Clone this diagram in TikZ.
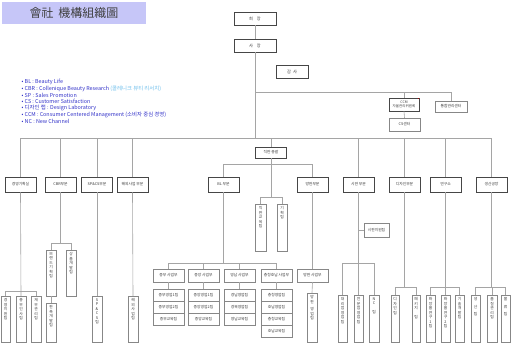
\documentclass[tikz,border=0pt]{standalone}
\usepackage{fontspec}
\setmainfont{Noto Sans CJK KR}
\definecolor{lav}{RGB}{198,198,248}
\definecolor{lineg}{RGB}{165,165,165}
\definecolor{boxg}{RGB}{135,135,135}
\definecolor{dkg}{RGB}{70,70,70}
\definecolor{txtg}{RGB}{60,60,60}
\definecolor{legblue}{RGB}{50,50,200}
\definecolor{legcyan}{RGB}{110,190,235}
\newcommand\vtx[2]{\parbox[c][#1pt][t]{8pt}{\centering\vspace*{2.5pt}#2}}
\begin{document}
\begin{tikzpicture}[x=1pt,y=-1pt,
 ln/.style={draw=lineg, line width=0.6pt},
 bx/.style={draw=boxg, line width=0.5pt, fill=white, inner sep=0pt, text=txtg, font=\fontsize{3.8}{4.5}\selectfont, align=center},
 topbox/.style={bx, draw=dkg, line width=0.8pt, minimum width=42pt, minimum height=13pt, font=\fontsize{4.2}{5}\selectfont},
 dept/.style={bx, draw=dkg, line width=0.8pt, minimum width=31pt, minimum height=15pt},
 subbox/.style={bx, minimum width=31pt, minimum height=13pt},
 stk/.style={bx, minimum width=31pt, minimum height=12pt},
 vb/.style={bx, minimum width=10pt},
 leg/.style={anchor=west, inner sep=0pt, text=legblue, font=\fontsize{5.4}{6}\selectfont},
 titlebox/.style={fill=lav, minimum width=144pt, minimum height=22pt, inner sep=0pt, text=black!75, font=\fontsize{12}{13}\selectfont}
]
\useasboundingbox (0,0) rectangle (512,343);

% title
\node[titlebox] (title) at (74,13) {會社\hspace{5pt}機構組織圖};

% legend
\node[leg] (l1) at (21.5,82) {• BL : Beauty Life};
\node[leg] (l2) at (21.5,88.5) {• CBR : Collenique Beauty Research {\color{legcyan}(콜레니크 뷰티 리서치)}};
\node[leg] (l3) at (21.5,95) {• SP : Sales Promotion};
\node[leg] (l4) at (21.5,101.5) {• CS : Customer Satisfaction};
\node[leg] (l5) at (21.5,108) {• 디자인 랩 : Design Laboratory};
\node[leg] (l6) at (21.5,114.5) {• CCM : Consumer Centered Management (소비자 중심 경영)};
\node[leg] (l7) at (21.5,121) {• NC : New Channel};

% top
\node[topbox] (hj) at (255,18.5) {회\hspace{4pt}장};
\node[topbox] (sj) at (255,45.5) {사\hspace{4pt}장};
\node[topbox, minimum width=32pt] (gs) at (292,71.5) {감\hspace{2pt}사};
\node[bx, draw=dkg, line width=0.8pt, minimum width=30pt, minimum height=13pt, font=\fontsize{3.5}{4.3}\selectfont] (ccm) at (404,104.5) {CCM\\자율관리위원회};
\fill[red!70!black] (ccm.north east) rectangle +(-1.3,1.3);
\node[bx, minimum width=31pt, minimum height=13pt] (cs) at (404.5,124.5) {CS센터};
\node[bx, minimum width=32pt, minimum height=11pt] (tg) at (451,106.5) {통합관리센터};

\coordinate (yT) at (255,92);
\coordinate (mb) at (255,138);
\draw[ln] (hj.south) -- (sj.north);
\draw[ln] (sj.south) -- (mb);
\draw[ln] (yT) -| (tg.north);
\draw[ln] (ccm.north) -- (ccm.north |- yT);
\draw[ln] (ccm.south) -- (cs.north);

% departments
\node[dept] (d1) at (20.5,184.5) {경영기획실};
\node[dept] (d2) at (60.5,184.5) {CBR부문};
\node[dept] (d3) at (97,184.5) {SP\&CS부문};
\node[dept] (d4) at (132.5,184.5) {해외사업 부문};
\node[dept, minimum height=11pt] (jp) at (271,152.5) {직판 총괄};
\node[dept] (bl) at (223.5,184.5) {BL 부문};
\node[dept] (bp) at (312.5,184.5) {방판부문};
\node[dept] (sp) at (358.5,184.5) {시판 부문};
\node[dept] (dz) at (404.5,184.5) {디자인부문};
\node[dept] (yg) at (445.5,184.5) {연구소};
\node[dept] (ss) at (491.5,184.5) {생산공장};

\draw[ln] (d1.north |- mb) -- (ss.north |- mb);
\foreach \n in {d1,d2,d3,d4,jp,sp,dz,yg,ss} \draw[ln] (\n.north) -- (\n.north |- mb);

\coordinate (yA) at (0,164);
\coordinate (yB) at (0,197);
\coordinate (yC) at (0,263);
\coordinate (yD) at (0,291);
\coordinate (yE) at (0,243);
\coordinate (yF) at (0,287);

% 직판 총괄
\draw[ln] (bl.north) |- (bp.north |- yA) -- (bp.north);
\draw[ln] (jp.south) -- (jp.south |- yB);
\node[vb, minimum width=11pt] (jc1) at (260.5,227.5) {\vtx{47}{직\\판\\교\\육\\팀}};
\node[vb] (jc2) at (282,227.5) {\vtx{47}{기\\획\\팀}};
\draw[ln] (jc1.north) |- (jc2.north |- yB) -- (jc2.north);

% BL
\node[subbox] (u1) at (168.5,275.5) {중부 사업부};
\node[subbox] (u2) at (203.5,275.5) {중앙 사업부};
\node[subbox] (u3) at (239.5,275.5) {영남 사업부};
\node[subbox] (u4) at (276.5,275.5) {충청호남 사업부};
\draw[ln] (bl.south) -- (bl.south |- yC);
\draw[ln] (u1.north) |- (u4.north |- yC) -- (u4.north);
\draw[ln] (u2.north) -- (u2.north |- yC);
\draw[ln] (u3.north) -- (u3.north |- yC);

\node[stk] (m11) at (168.5,295) {중부영업1팀};
\node[stk] (m12) at (168.5,307) {중부영업2팀};
\node[stk] (m13) at (168.5,319) {중부교육팀};
\node[stk] (m21) at (203.5,295) {중앙영업1팀};
\node[stk] (m22) at (203.5,307) {중앙영업2팀};
\node[stk] (m23) at (203.5,319) {중앙교육팀};
\node[stk] (m31) at (239.5,295) {경남영업팀};
\node[stk] (m32) at (239.5,307) {경북영업팀};
\node[stk] (m33) at (239.5,319) {영남교육팀};
\node[stk] (m41) at (276.5,295) {충청영업팀};
\node[stk] (m42) at (276.5,307) {호남영업팀};
\node[stk] (m43) at (276.5,319) {충청교육팀};
\node[stk] (m44) at (276.5,331) {호남교육팀};
\draw[ln] (u1.south) -- (m11.north);
\draw[ln] (u2.south) -- (m21.north);
\draw[ln] (u3.south) -- (m31.north);
\draw[ln] (u4.south) -- (m41.north);

% 방판
\node[subbox] (bps) at (312.5,275.5) {방판 사업부};
\node[vb] (bpv) at (312,317.5) {\vtx{49}{방\\판\\[3pt]영\\업\\팀}};
\draw[ln] (bp.south) -- (bps.north);
\draw[ln] (bps.south) -- (bpv.north);

% 경영기획실
\node[vb, minimum width=9.5pt] (k1) at (5.5,319) {\vtx{46}{경\\영\\지\\원\\팀}};
\node[vb] (k2) at (21,319) {\vtx{46}{총\\무\\인\\사\\팀}};
\node[vb] (k3) at (36,319) {\vtx{46}{재\\무\\관\\리\\팀}};
\draw[ln] (d1.south) -- (k2.north);
\draw[ln] (k1.north) |- (k3.north |- yD) -- (k3.north);

% CBR
\node[vb] (c1) at (51,273) {\vtx{46}{브\\랜\\드\\기\\획\\팀}};
\node[vb] (c2) at (71,273) {\vtx{46}{상\\품\\개\\발\\팀}};
\node[vb] (c3) at (51,322.5) {\vtx{39}{판\\촉\\개\\발\\팀}};
\draw[ln] (d2.south) -- (d2.south |- yE);
\draw[ln] (c1.north) |- (c2.north |- yE) -- (c2.north);
\draw[ln] (c1.south) -- (c3.north);

% SP&CS, 해외
\node[vb] (e1) at (97,319) {\vtx{46}{S\\P\\\&\\C\\S\\팀}};
\node[vb] (f1) at (133,319) {\vtx{46}{해\\외\\사\\업\\팀}};
\draw[ln] (d3.south) -- (e1.north);
\draw[ln] (d4.south) -- (f1.north);

% 시판
\node[bx, minimum width=25pt, minimum height=14pt] (sside) at (376.5,230) {시판지원팀};
\draw[ln] (sp.south) -- (sp.south |- yC);
\draw[ln] (sside.west) -- (sside.west -| sp.south);
\node[vb, minimum width=9pt] (q1) at (342.5,318.5) {\vtx{47}{대\\리\\점\\영\\업\\팀}};
\node[vb, minimum width=9pt] (q2) at (358.5,318.5) {\vtx{47}{전\\문\\점\\영\\업\\팀}};
\node[vb] (q3) at (374,318.5) {\vtx{47}{N\\C\\[4pt]팀}};
\draw[ln] (q1.north) |- (q3.north |- yC) -- (q3.north);
\draw[ln] (q2.north) -- (q2.north |- yC);

% 디자인
\node[vb, minimum width=8.5pt] (z1) at (395,318.5) {\vtx{47}{디\\자\\인\\팀}};
\node[vb, minimum width=8.5pt] (z2) at (416,318.5) {\vtx{47}{패\\키\\지\\[4pt]팀}};
\draw[ln] (dz.south) -- (dz.south |- yF);
\draw[ln] (z1.north) |- (z2.north |- yF) -- (z2.north);

% 연구소
\node[vb, minimum width=9pt] (r1) at (430.5,318.5) {\vtx{47}{화\\장\\품\\연\\구\\1\\팀}};
\node[vb, minimum width=9pt] (r2) at (445.5,318.5) {\vtx{47}{화\\장\\품\\연\\구\\2\\팀}};
\node[vb, minimum width=9pt] (r3) at (459.5,318.5) {\vtx{47}{기\\술\\개\\발\\팀}};
\draw[ln] (yg.south) -- (r2.north);
\draw[ln] (r1.north) |- (r3.north |- yF) -- (r3.north);

% 생산
\node[vb, minimum width=9pt] (p1) at (475.5,318.5) {\vtx{47}{생\\[3pt]산\\[3pt]팀}};
\node[vb] (p2) at (492,318.5) {\vtx{47}{품\\질\\관\\리\\팀}};
\node[vb, minimum width=9pt] (p3) at (505.5,318.5) {\vtx{47}{물\\[3pt]류\\[3pt]팀}};
\draw[ln] (ss.south) -- (ss.south |- yF);
\draw[ln] (p1.north) |- (p3.north |- yF) -- (p3.north);
\draw[ln] (p2.north) -- (p2.north |- yF);
\end{tikzpicture}
\end{document}
